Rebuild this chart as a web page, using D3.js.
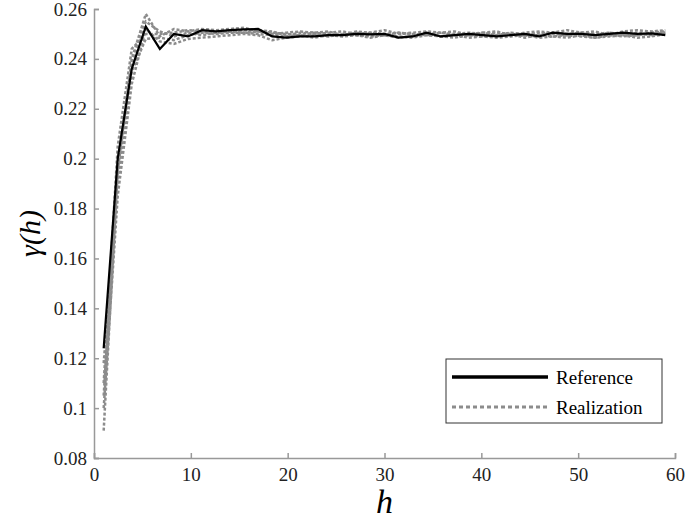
<!DOCTYPE html>
<html><head><meta charset="utf-8">
<script src="https://cdn.jsdelivr.net/npm/d3@7"></script>
<style>body{margin:0;background:#fff} svg, svg text{font-family:"Liberation Serif","Times New Roman","DejaVu Serif",serif !important}</style>
</head><body><div id="chart"></div>
<script>
const lags = [1,2.45,3.9,5.35,6.8,8.25,9.7,11.15,12.6,14.05,15.5,16.95,18.4,19.85,21.3,22.75,24.2,25.65,27.1,28.55,30,31.45,32.9,34.35,35.8,37.25,38.7,40.15,41.6,43.05,44.5,45.95,47.4,48.85,50.3,51.75,53.2,54.65,56.1,57.55,59];
const reference = [0.124,0.200,0.236,0.253,0.244,0.250,0.249,0.2515,0.251,0.2515,0.2518,0.252,0.249,0.2485,0.249,0.249,0.2495,0.2495,0.250,0.2498,0.250,0.2485,0.249,0.2505,0.249,0.2495,0.250,0.2495,0.249,0.2495,0.250,0.249,0.2505,0.250,0.250,0.2495,0.250,0.2505,0.250,0.2502,0.2495];
const real1 = [0.091,0.195,0.240,0.258,0.249,0.252,0.251,0.252,0.2515,0.252,0.2525,0.251,0.250,0.2505,0.251,0.2505,0.251,0.2495,0.251,0.2505,0.2515,0.250,0.2505,0.251,0.2505,0.251,0.2495,0.2505,0.251,0.2495,0.2505,0.251,0.2505,0.2515,0.2505,0.251,0.2495,0.251,0.2515,0.251,0.2515];
const real2 = [0.100,0.185,0.230,0.252,0.247,0.246,0.248,0.2485,0.249,0.2495,0.250,0.2495,0.2475,0.2485,0.249,0.2495,0.249,0.250,0.2495,0.249,0.2495,0.2485,0.249,0.250,0.249,0.2485,0.2495,0.249,0.2485,0.249,0.2495,0.2485,0.249,0.2495,0.249,0.2485,0.2495,0.249,0.2495,0.250,0.2505];
const real3 = [0.110,0.205,0.244,0.250,0.250,0.2505,0.2515,0.251,0.2505,0.251,0.2515,0.2515,0.251,0.2495,0.2505,0.250,0.2505,0.251,0.250,0.2505,0.250,0.2505,0.2495,0.250,0.2505,0.250,0.2505,0.250,0.2505,0.250,0.2495,0.2505,0.250,0.2495,0.2505,0.250,0.2505,0.250,0.2495,0.2505,0.251];
const real4 = [0.118,0.192,0.235,0.248,0.2485,0.2475,0.2495,0.2505,0.250,0.2505,0.2505,0.250,0.2495,0.249,0.2495,0.2485,0.2495,0.249,0.2495,0.2485,0.2495,0.249,0.2485,0.2495,0.249,0.2495,0.2485,0.249,0.2495,0.250,0.2485,0.2495,0.249,0.2485,0.2495,0.2485,0.249,0.2495,0.2485,0.249,0.250];
const real5 = [0.105,0.198,0.238,0.255,0.251,0.249,0.2505,0.2495,0.2505,0.251,0.2505,0.251,0.2505,0.250,0.2495,0.2505,0.250,0.2495,0.2505,0.250,0.2495,0.2505,0.250,0.2495,0.2505,0.2495,0.250,0.2505,0.2495,0.2505,0.250,0.2495,0.2505,0.250,0.2505,0.2495,0.2505,0.2495,0.2505,0.2495,0.2505];
const realizations = [real1, real2, real3, real4, real5];
const xTicks = [0,10,20,30,40,50,60];
const yTicks = [0.08,0.1,0.12,0.14,0.16,0.18,0.2,0.22,0.24,0.26];

const W = 685, H = 518, m = {l:94, r:10, t:9, b:60};
const svg = d3.select("#chart").append("svg").attr("width", W).attr("height", H);
const x = d3.scaleLinear().domain([0,60]).range([m.l, W - m.r]);
const y = d3.scaleLinear().domain([0.08,0.26]).range([H - m.b, m.t]);

const gx = svg.append("g").attr("transform", `translate(0,${H - m.b})`)
  .call(d3.axisBottom(x).tickValues(xTicks).tickSize(-5).tickPadding(10).tickFormat(d3.format("d")));
const gy = svg.append("g").attr("transform", `translate(${m.l},0)`)
  .call(d3.axisLeft(y).tickValues(yTicks).tickSize(-5).tickPadding(7).tickFormat(d => d === 0.1 || d === 0.2 ? String(d) : d.toFixed(2)));
[gx, gy].forEach(g => {
  g.selectAll("path,line").attr("stroke", "#999").attr("stroke-width", 1.5);
  g.selectAll("text").attr("font-size", 19).attr("fill", "#222");
});

const line = d3.line().x((d, i) => x(lags[i])).y(d => y(d));
realizations.forEach(r => {
  svg.append("path").attr("d", line(r)).attr("fill", "none")
    .attr("stroke", "#8c8c8c").attr("stroke-width", 2.5).attr("stroke-dasharray", "3,2");
});
svg.append("path").attr("d", line(reference)).attr("fill", "none")
  .attr("stroke", "#000").attr("stroke-width", 2.2);

svg.append("text").attr("x", x(30)).attr("y", 513).attr("text-anchor", "middle")
  .attr("font-size", 34).attr("font-style", "italic").text("h");
svg.append("text").attr("transform", `translate(40,${y(0.17)}) rotate(-90)`).attr("text-anchor", "middle")
  .attr("font-size", 30).attr("font-style", "italic").text("γ(h)");

const lg = svg.append("g").attr("transform", "translate(446,359)");
lg.append("rect").attr("width", 216).attr("height", 64).attr("fill", "#fff").attr("stroke", "#333").attr("stroke-width", 1);
lg.append("line").attr("x1", 6).attr("x2", 102).attr("y1", 18).attr("y2", 18).attr("stroke", "#000").attr("stroke-width", 3.5);
lg.append("line").attr("x1", 6).attr("x2", 102).attr("y1", 48).attr("y2", 48).attr("stroke", "#8c8c8c").attr("stroke-width", 3).attr("stroke-dasharray", "4,3");
lg.append("text").attr("x", 110).attr("y", 25).attr("font-size", 19).text("Reference");
lg.append("text").attr("x", 110).attr("y", 55).attr("font-size", 19).text("Realization");
</script></body></html>
